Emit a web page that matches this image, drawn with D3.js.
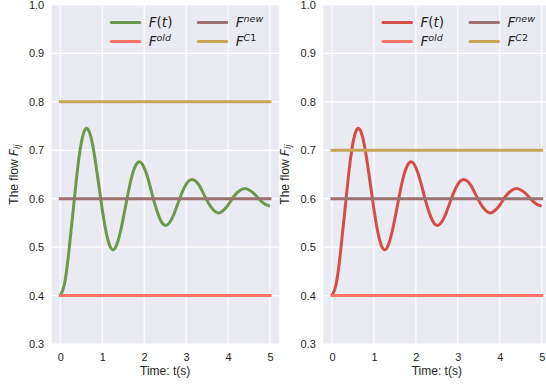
<!DOCTYPE html>
<html>
<head>
<meta charset="utf-8">
<script src="https://cdn.jsdelivr.net/npm/d3@7"></script>
<style>
  body { margin: 0; background: #ffffff; }
  svg { display: block; }
</style>
</head>
<body>
<div id="chart"></div>
<script>
// time axis samples (s) and the flow
const timeSteps = [0.0, 0.1, 0.2, 0.3, 0.4, 0.5, 0.6, 0.7, 0.8, 0.9,
    1.0, 1.1, 1.2, 1.3, 1.4, 1.5, 1.6, 1.7, 1.8, 1.9,
    2.0, 2.1, 2.2, 2.3, 2.4, 2.5, 2.6, 2.7, 2.8, 2.9,
    3.0, 3.1, 3.2, 3.3, 3.4, 3.5, 3.6, 3.7, 3.8, 3.9,
    4.0, 4.1, 4.2, 4.3, 4.4, 4.5, 4.6, 4.7, 4.8, 4.9, 5.0];
const flowValues = [0.400, 0.424, 0.487, 0.570, 0.653, 0.715, 0.744, 0.736, 0.697, 0.639,
    0.578, 0.528, 0.499, 0.497, 0.520, 0.559, 0.604, 0.644, 0.669, 0.676,
    0.664, 0.639, 0.606, 0.576, 0.554, 0.545, 0.550, 0.566, 0.589, 0.612,
    0.630, 0.639, 0.638, 0.629, 0.613, 0.596, 0.582, 0.573, 0.571, 0.577,
    0.587, 0.600, 0.611, 0.618, 0.621, 0.618, 0.612, 0.603, 0.594, 0.588, 0.585];

// constant levels
const levelOld = 0.4;
const levelNew = 0.6;
const levelC1 = 0.8;
const levelC2 = 0.7;

const xTicks = [0, 1, 2, 3, 4, 5];
const yTicks = [0.3, 0.4, 0.5, 0.6, 0.7, 0.8, 0.9, 1.0];

const W = 546, H = 385;
const tickFont = "'Liberation Sans', Arial, sans-serif";
const mathFont = "'DejaVu Sans', sans-serif";
const textColor = "#262626";

const svg = d3.select("#chart").append("svg")
    .attr("width", W)
    .attr("height", H)
    .style("overflow", "hidden");

function drawPanel(offset, curveColor, cLabel, cLevel) {
    const x = d3.scaleLinear().domain([0, 5]).range([60.3 + offset, 270 + offset]);
    const y = d3.scaleLinear().domain([0.3, 1.0]).range([344, 5]);
    const left = x(-0.205), right = x(5.22);

    const g = svg.append("g");

    // background
    g.append("rect")
        .attr("x", left)
        .attr("y", y(1.0))
        .attr("width", right - left)
        .attr("height", y(0.3) - y(1.0))
        .attr("fill", "#eaeaf2");

    // grid
    g.selectAll(".gx").data(xTicks).enter().append("line")
        .attr("x1", d => x(d)).attr("x2", d => x(d))
        .attr("y1", y(1.0)).attr("y2", y(0.3))
        .attr("stroke", "#ffffff").attr("stroke-width", 1.2);
    g.selectAll(".gy").data(yTicks).enter().append("line")
        .attr("x1", left).attr("x2", right)
        .attr("y1", d => y(d)).attr("y2", d => y(d))
        .attr("stroke", "#ffffff").attr("stroke-width", 1.2);

    // axes (labels only)
    const ax = g.append("g")
        .attr("transform", "translate(0," + y(0.3) + ")")
        .call(d3.axisBottom(x).tickValues(xTicks).tickSize(0).tickPadding(9.2).tickFormat(d3.format("d")));
    const ay = g.append("g")
        .attr("transform", "translate(" + left + ",0)")
        .call(d3.axisLeft(y).tickValues(yTicks).tickSize(0).tickPadding(7.5).tickFormat(d3.format(".1f")));
    [ax, ay].forEach(a => {
        a.select(".domain").remove();
        a.selectAll("text")
            .attr("font-family", tickFont)
            .attr("font-size", 11)
            .attr("fill", textColor);
    });

    // axis titles
    g.append("text")
        .attr("x", (x(0) + x(5)) / 2)
        .attr("y", 375)
        .attr("text-anchor", "middle")
        .attr("font-family", tickFont)
        .attr("font-size", 12)
        .attr("fill", textColor)
        .text("Time: t(s)");

    const yl = g.append("text")
        .attr("transform", "translate(" + (left - 38) + "," + ((y(0.3) + y(1.0)) / 2) + ") rotate(-90)")
        .attr("text-anchor", "middle")
        .attr("dominant-baseline", "central")
        .attr("font-family", tickFont)
        .attr("font-size", 12)
        .attr("fill", textColor);
    yl.append("tspan").text("The flow ");
    yl.append("tspan").attr("font-family", mathFont).attr("font-style", "italic").text("F");
    yl.append("tspan").attr("font-family", mathFont).attr("font-style", "italic")
        .attr("font-size", 8.5).attr("dy", 3).text("ij");

    // lines
    const line = d3.line()
        .x((d, i) => x(timeSteps[i]))
        .y(d => y(d))
        .curve(d3.curveNatural);

    g.append("path")
        .datum(flowValues)
        .attr("d", line)
        .attr("fill", "none")
        .attr("stroke", curveColor)
        .attr("stroke-width", 3);

    const levels = [
        { v: levelOld, c: "#fb7467" },
        { v: levelNew, c: "#9a7270" },
        { v: cLevel, c: "#c9a558" }
    ];
    g.selectAll(".lvl").data(levels).enter().append("line")
        .attr("x1", x(timeSteps[0]))
        .attr("x2", x(timeSteps[timeSteps.length - 1]))
        .attr("y1", d => y(d.v)).attr("y2", d => y(d.v))
        .attr("stroke", d => d.c)
        .attr("stroke-width", 3)
        .attr("stroke-linecap", "square");

    // legend
    const legendItems = [
        { c: curveColor, col: 0, row: 0, parts: [["F", "i"], ["(", "n"], ["t", "i"], [")", "n"]] },
        { c: "#fb7467", col: 0, row: 1, parts: [["F", "i"], ["old", "sup"]] },
        { c: "#9a7270", col: 1, row: 0, parts: [["F", "i"], ["new", "sup"]] },
        { c: "#c9a558", col: 1, row: 1, parts: [["F", "i"], ["C", "supi"], [cLabel, "supn"]] }
    ];
    const x0 = 60.3 + offset;
    legendItems.forEach(item => {
        const lx = x0 + 51 + item.col * 87;
        const ly = 22.5 + item.row * 19;
        g.append("line")
            .attr("x1", lx).attr("x2", lx + 28.5)
            .attr("y1", ly).attr("y2", ly)
            .attr("stroke", item.c)
            .attr("stroke-width", 3)
            .attr("stroke-linecap", "round");
        const t = g.append("text")
            .attr("x", lx + 37.5)
            .attr("y", ly + 4.8)
            .attr("font-family", mathFont)
            .attr("font-size", 13.5)
            .attr("fill", textColor);
        let raised = false;
        item.parts.forEach(p => {
            const s = t.append("tspan").text(p[0]);
            if (p[1] === "i") s.attr("font-style", "italic");
            if (p[1].startsWith("sup")) {
                s.attr("font-size", 9.5);
                if (p[1] !== "supn") s.attr("font-style", "italic");
                if (!raised) { s.attr("dy", -5.5); raised = true; }
            }
        });
    });
}

drawPanel(0, "#6b9a4e", "1", levelC1);
drawPanel(271.7, "#d24f49", "2", levelC2);
</script>
</body>
</html>
